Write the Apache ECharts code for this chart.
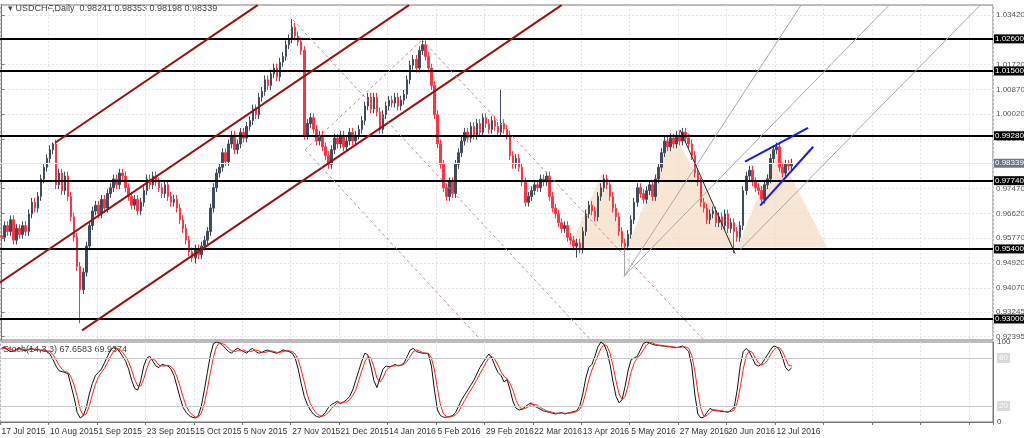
<!DOCTYPE html>
<html>
<head>
<meta charset="utf-8">
<script src="https://cdn.jsdelivr.net/npm/echarts@6/dist/echarts.min.js"></script>
<style>
  html, body { margin: 0; padding: 0; background: #fff; }
  #chart { width: 1024px; height: 438px; }
</style>
</head>
<body>
<div id="chart"></div>
<script>
// daily closes, USDCHF, 17 Jul 2015 .. 15 Jul 2016
var closes = [
  0.958,0.962,0.960,0.964,0.957,0.961,0.959,0.962,0.960,
  0.966,0.970,0.968,0.972,
  0.978,0.982,0.985,0.988,0.990,
  0.976,0.980,0.974,0.979,0.972,
  0.965,0.958,0.948,0.940,
  0.946,0.955,0.962,0.967,
  0.969,0.966,0.971,0.968,0.973,
  0.975,0.978,0.976,0.980,0.979,
  0.975,0.972,0.969,0.971,0.967,
  0.970,0.974,0.978,0.976,0.979,0.977,
  0.975,0.973,0.976,0.972,0.970,0.971,
  0.968,0.964,0.961,0.957,0.953,0.951,
  0.954,0.952,0.955,0.957,
  0.960,0.968,0.975,0.980,
  0.982,0.987,0.984,0.990,0.993,
  0.988,0.990,0.994,0.992,0.996,
  0.998,1.002,1.000,1.006,1.008,
  1.012,1.010,1.014,1.016,1.013,
  1.018,1.020,1.024,1.026,1.030,
  1.027,1.025,1.022,
  0.993,
  0.997,0.999,0.995,0.991,0.993,
  0.989,0.986,0.983,0.988,0.992,
  0.990,0.993,0.989,0.991,0.994,
  0.991,0.993,0.995,0.998,
  1.003,1.006,1.002,1.006,1.001,
  0.995,1.000,1.003,1.005,
  1.004,1.006,1.003,1.005,1.007,
  1.012,1.017,1.019,1.016,1.022,
  1.024,1.020,1.016,
  1.010,1.000,0.990,0.983,
  0.975,0.972,0.977,0.973,
  0.983,0.987,0.991,0.994,0.992,
  0.996,0.993,0.997,0.994,0.999,
  0.997,0.995,0.998,0.996,0.994,
  0.997,0.995,0.993,0.986,0.983,
  0.985,0.982,0.977,
  0.970,0.972,0.974,
  0.976,0.975,0.978,0.977,0.979,
  0.972,0.968,0.966,0.963,
  0.961,0.962,0.958,0.957,0.955,
  0.956,0.954,0.960,0.966,
  0.969,0.967,0.965,0.972,0.975,
  0.978,0.976,0.972,0.968,
  0.965,0.960,0.956,0.955,
  0.959,0.964,0.970,0.975,0.973,
  0.971,0.974,0.976,0.972,0.978,
  0.982,0.987,0.991,0.989,0.992,
  0.990,0.993,0.991,0.994,0.992,
  0.990,0.986,0.980,0.977,0.970,
  0.968,0.964,0.966,0.967,0.963,
  0.965,0.962,0.966,0.961,0.963,
  0.960,0.958,0.962,0.974,
  0.979,0.981,0.977,0.975,0.974,
  0.971,0.976,0.978,0.985,0.988,
  0.989,0.982,0.980,0.983,0.98241,0.98339
];
var firstOpen = 0.9585;
var wick = 0.0015;
// visible spikes that stand out from the usual wick
var highSpikes = { 96: 1.0328, 139: 1.0257, 165: 1.0085, 17: 0.9905 };
var lowSpikes = { 26: 0.9285, 206: 0.9465, 242: 0.9525, 190: 0.9510, 64: 0.9490 };

// Stoch(14,3,3) %K and %D
var stochK = [
  92,94,90,88,89,91,92,90,89,91,92,90,91,89,90,88,
  85,78,70,64,63, 62,60,45, 30,12,5, 8,18,35,48,58,62,
  66,74,82,90,93,92, 88,82,76,66,52,42,40,52, 70,80,82,76,
  70,68,72,71,70,66, 58,44,30,18,12, 8,6,5,8, 20,40,62,84,98,100,
  99,96,92,88,86,90, 92,90,88,86,90,92,88,86,87,89,90,88,87,86,88,90,89,88,86,
  80,66,48,32,22,15,10, 7,6,8,12, 18,22,24,26,23,25,28,32,
  40,52,64,76,86,84, 70,52,43,55, 66,70,69,70,72,70,71,74,82,
  90,92,88, 87,86,86,85,70, 40,15,8, 6,6,7,8,12,
  20,28,34,40,46,52,60,68,74,80,85, 80,70,62,58,50,53,40, 25,17,15,
  16,19,22,24,20,18,16,14, 13,12,11,10,11,12,10,11,12,13,14,20,
  35,55,68,72,82,94,100,97, 88,72,50,32,24,28, 45,65,78,80,82,90,
  98,100,99,97,96,96, 95,95,94,94,93,93,94,95,92,88, 70,35,10,5,
  6,12,17,15,14,14,13,13,12,15,18, 40,70,88,92,88, 80,72,70,72,78,84,90,95,
  94,90,80,68,64,67.6583
];
var stochD = [
  91,92,92,91,89,89,91,91,90,90,91,91,91,90,90,89,
  88,84,78,71,66, 63,62,56, 46,32,16, 8,10,20,34,47,56,
  62,67,74,82,88,92, 91,87,82,75,65,53,45,45, 54,67,77,79,
  76,71,70,70,71,69, 65,56,44,31,20, 13,9,6,6, 11,23,41,62,81,94,
  99,98,96,92,89,88, 89,89,90,88,88,89,90,89,87,87,88,89,88,87,87,88,89,89,88,
  85,78,65,50,34,23,16, 11,8,7,9, 12,17,21,24,24,25,25,28,
  33,40,52,64,75,82, 80,69,55,50, 55,64,68,70,70,71,71,72,76,
  82,88,90, 89,87,86,86,80, 65,42,21, 10,7,6,7,9,
  13,20,27,34,40,46,53,60,67,74,80, 82,78,71,63,57,54,48, 39,27,19,
  16,17,19,22,22,21,18,16, 14,13,12,11,11,11,11,11,11,12,13,16,
  23,37,53,65,74,83,92,97, 95,86,70,51,35,28, 32,46,63,74,80,84,
  90,96,99,99,97,96, 96,95,95,94,94,93,93,94,94,92, 83,64,38,17,
  7,8,12,15,15,14,14,13,13,13,15, 24,43,66,83,89, 87,80,74,71,73,77,84,90,
  93,93,88,79,71,69.9374
];

var tickLabels = ['17 Jul 2015','10 Aug 2015','1 Sep 2015','23 Sep 2015','15 Oct 2015',
  '5 Nov 2015','27 Nov 2015','21 Dec 2015','14 Jan 2016','5 Feb 2016','29 Feb 2016',
  '22 Mar 2016','13 Apr 2016','5 May 2016','27 May 2016','20 Jun 2016','12 Jul 2016'];
var priceTicks = [1.0342,1.0172,1.0087,1.0002,0.9917,0.9747,0.9662,0.9577,0.9492,0.9407,0.93245,0.92395];
var levels = [1.026, 1.015, 0.9928, 0.9774, 0.954, 0.930];
var lastPrice = 0.98339;
var slots = 328;

// drawn objects, [bar index, price]
var channelLines = [
  [[17.7,0.9904],[84.6,1.0376]],
  [[-0.5,0.9425],[134.6,1.0376]],
  [[26.6,0.92609],[185.0,1.0376]]
];
var dashedLines = [
  [[100.3,0.98801],[138.9,1.02565]],
  [[100.3,0.98801],[158.1,0.92302]],
  [[96.3,1.03249],[194.4,0.92301]],
  [[138.9,1.02565],[231.7,0.92301]]
];
var grayLines = [
  [[205.6,0.94457],[264.1,1.0376]],
  [[205.6,0.94457],[293.2,1.0376]],
  [[244.0,0.95381],[323.3,1.0376]],
  [[205.6,0.95381],[205.6,0.94457]]
];
var blackLines = [ [[224.1,0.99486],[242.3,0.95244]] ];
var blueLines = [
  [[245.6,0.98391],[266.4,0.99554]],
  [[250.6,0.96886],[268.1,0.98904]]
];
var triangles = [
  [187.8,0.95449,198.4,0.98014,206.6,0.95449],
  [206.6,0.95449,221.8,0.99383,243.0,0.95449],
  [243.0,0.95449,256.2,0.98801,272.7,0.95449]
];

var cats = [];
for (var i = 0; i < slots; i++) cats.push(String(i));

var candles = closes.map(function (c, i) {
  var o = i === 0 ? firstOpen : closes[i - 1];
  var hi = highSpikes[i] !== undefined ? highSpikes[i] : Math.max(o, c) + wick;
  var lo = lowSpikes[i] !== undefined ? lowSpikes[i] : Math.min(o, c) - wick;
  return [o, c, lo, hi];
});

function segs(list) {
  return list.map(function (s) { return [{ coord: s[0] }, { coord: s[1] }]; });
}
function lineSeries(list, style) {
  return {
    type: 'line', xAxisIndex: 2, yAxisIndex: 0, data: [], silent: true,
    markLine: { symbol: 'none', silent: true, animation: false, label: { show: false },
      lineStyle: style, data: segs(list) }
  };
}
function levelLine(v, color, width, bg) {
  return [
    { coord: [-0.5, v], lineStyle: { color: color, width: width, type: 'solid' },
      label: { show: true, position: 'end', distance: 1, formatter: v.toFixed(5), color: '#fff',
        backgroundColor: bg, padding: [1, 1, 0, 1], fontSize: 8, fontFamily: 'Liberation Sans' } },
    { coord: [slots - 0.5, v] }
  ];
}

var font = 'Liberation Sans';
var chart = echarts.init(document.getElementById('chart'));
chart.setOption({
  animation: false,
  textStyle: { fontFamily: font },
  graphic: [
    { type: 'text', left: 8, top: 4, style: { text: '\u25BE USDCHF,Daily  0.98241 0.98353 0.98198 0.98339',
      font: '9px ' + font, fill: '#444' } },
    { type: 'text', left: 3, top: 345, style: { text: 'Stoch(14,3,3) 67.6583 69.9374',
      font: '9px ' + font, fill: '#444' } }
  ],
  grid: [
    { left: 0, right: 31, top: 5, height: 335, show: true, borderColor: '#777', borderWidth: 1,
      outerBoundsMode: 'none', containLabel: false },
    { left: 0, right: 31, top: 342, height: 80, show: true, borderColor: '#777', borderWidth: 1,
      outerBoundsMode: 'none', containLabel: false }
  ],
  xAxis: [
    { type: 'category', gridIndex: 0, data: cats, axisLine: { show: false }, axisTick: { show: false },
      axisLabel: { show: false },
      splitLine: { show: true, interval: 15, lineStyle: { color: '#e4e4e4', type: [2, 2] } } },
    { type: 'category', gridIndex: 1, data: cats, axisLine: { lineStyle: { color: '#777' } },
      axisTick: { show: true, interval: 15, lineStyle: { color: '#777' }, length: 3 },
      axisLabel: { interval: 15, align: 'left', color: '#333', fontSize: 8.5, margin: 5, hideOverlap: false,
        formatter: function (v, i) { return i % 16 === 0 && tickLabels[i / 16] ? tickLabels[i / 16] : ''; } },
      splitLine: { show: true, interval: 15, lineStyle: { color: '#e4e4e4', type: [2, 2] } } },
    { type: 'value', gridIndex: 0, min: -0.5, max: slots - 0.5, show: false }
  ],
  yAxis: [
    { type: 'value', gridIndex: 0, position: 'right', min: 0.92279, max: 1.03762, scale: true,
      axisLine: { show: true, lineStyle: { color: '#777' } },
      axisTick: { show: true, customValues: priceTicks, length: 3, lineStyle: { color: '#777' } },
      axisLabel: { customValues: priceTicks, color: '#555', fontSize: 8, margin: 3,
        formatter: function (v) { return v.toFixed(5); } },
      splitLine: { show: true, lineStyle: { color: '#e4e4e4', type: [2, 2] } } },
    { type: 'value', gridIndex: 1, position: 'right', min: 0, max: 100,
      axisLine: { show: true, lineStyle: { color: '#777' } },
      axisTick: { show: false },
      axisLabel: { customValues: [0, 20, 80, 100], color: '#444', fontSize: 8, margin: 4,
        formatter: function (v) { return (v === 20 || v === 80) ? '{b|' + v + '}' : String(v); },
        rich: { b: { backgroundColor: '#d8d8d8', color: '#fff', padding: [1, 2], fontSize: 8 } } },
      splitLine: { show: false } }
  ],
  series: [
    {
      type: 'custom', xAxisIndex: 2, yAxisIndex: 0, silent: true, z: 1, data: triangles,
      renderItem: function (params, api) {
        var pts = [];
        for (var k = 0; k < 3; k++) pts.push(api.coord([api.value(2 * k), api.value(2 * k + 1)]));
        return { type: 'polygon', shape: { points: pts }, style: { fill: 'rgba(244,222,196,0.75)' } };
      }
    },
    {
      type: 'line', xAxisIndex: 2, yAxisIndex: 0, data: [], silent: true, z: 2,
      markLine: { symbol: 'none', silent: true, animation: false,
        data: [levelLine(lastPrice, '#e8ecef', 1, '#6a7784')] }
    },
    {
      type: 'candlestick', xAxisIndex: 0, yAxisIndex: 0, data: candles, barWidth: 2, z: 3,
      itemStyle: { color: '#3f4c5c', color0: '#ff3344', borderColor: '#3f4c5c', borderColor0: '#ff3344', borderWidth: 1 }
    },
    {
      type: 'line', xAxisIndex: 2, yAxisIndex: 0, data: [], silent: true, z: 4,
      markLine: { symbol: 'none', silent: true, animation: false,
        data: levels.map(function (v) { return levelLine(v, '#000', 2, '#000'); }) }
    },
    lineSeries(channelLines, { color: '#9a1010', width: 2, type: 'solid' }),
    lineSeries(dashedLines, { color: '#c98a8a', width: 1, type: [3, 3] }),
    lineSeries(grayLines, { color: '#a8a8a8', width: 1, type: 'solid' }),
    lineSeries(blackLines, { color: '#222', width: 1, type: 'solid' }),
    lineSeries(blueLines, { color: '#1a1ae6', width: 2, type: 'solid' }),
    {
      type: 'line', xAxisIndex: 1, yAxisIndex: 1, data: stochK, symbol: 'none', z: 3,
      lineStyle: { color: '#111', width: 1 },
      markLine: { symbol: 'none', silent: true, label: { show: false },
        lineStyle: { color: '#c8c8c8', width: 1, type: 'solid' },
        data: [{ yAxis: 80 }, { yAxis: 20 }] }
    },
    { type: 'line', xAxisIndex: 1, yAxisIndex: 1, data: stochD, symbol: 'none', z: 4,
      lineStyle: { color: '#ff2020', width: 1 } }
  ]
});
</script>
</body>
</html>
